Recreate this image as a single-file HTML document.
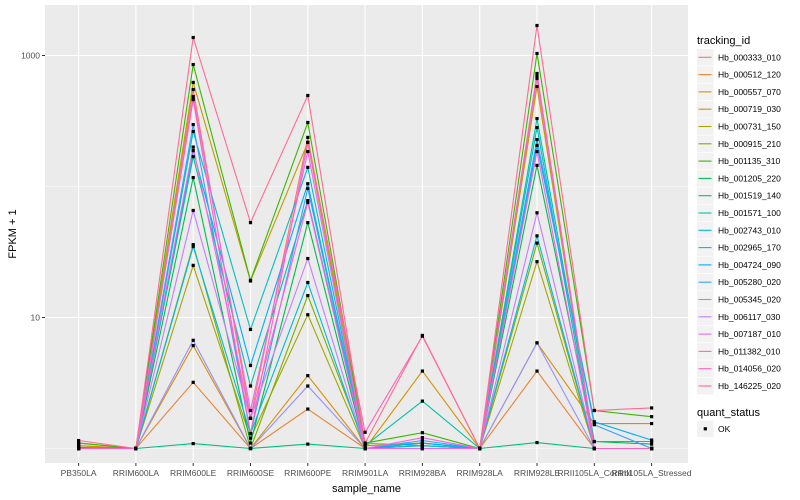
<!DOCTYPE html>
<html><head><meta charset="utf-8"><style>
body{margin:0;background:#fff}
svg{display:block;font-family:"Liberation Sans",sans-serif}
</style></head><body>
<svg id="chart" width="800" height="500"></svg>
<script>
const categories=["PB350LA","RRIM600LA","RRIM600LE","RRIM600SE","RRIM600PE","RRIM901LA","RRIM928BA","RRIM928LA","RRIM928LE","RRII105LA_Control","RRII105LA_Stressed"];
const seriesNames=["Hb_000333_010","Hb_000512_120","Hb_000557_070","Hb_000719_030","Hb_000731_150","Hb_000915_210","Hb_001135_310","Hb_001205_220","Hb_001519_140","Hb_001571_100","Hb_002743_010","Hb_002965_170","Hb_004724_090","Hb_005280_020","Hb_005345_020","Hb_006117_030","Hb_007187_010","Hb_011382_010","Hb_014056_020","Hb_146225_020"];
const s01=[1.1,1.0,550,1.7,237,1.1,1.05,1.0,667,1.0,1.0];
const s02=[1.0,1.0,3.2,1.0,2.0,1.0,1.0,1.0,3.9,1.0,1.0];
const s03=[1.05,1.0,6.1,1.0,3.6,1.0,3.9,1.0,6.4,1.55,1.55];
const s04=[1.05,1.0,623,19,217,1.0,1.0,1.0,580,1.0,1.0];
const s05=[1.0,1.0,25,1.2,10.5,1.0,1.0,1.0,26.7,1.0,1.0];
const s06=[1.0,1.0,36,1.0,14.7,1.05,1.1,1.0,37,1.0,1.0];
const s07=[1.1,1.0,853,19.2,308,1.1,1.32,1.0,1036,1.95,1.75];
const s08=[1.0,1.0,117,1.1,53,1.0,1.05,1.0,145,1.13,1.08];
const s09=[1.02,1.0,1.09,1.0,1.08,1.0,1.0,1.0,1.11,1.0,1.0];
const s10=[1.0,1.0,169,3.0,78,1.05,2.3,1.0,330,1.13,1.13];
const s11=[1.0,1.0,263,8.1,140,1.0,1.1,1.0,282,1.0,1.0];
const s12=[1.0,1.0,34.8,1.3,18.5,1.0,1.05,1.0,42,1.0,1.0];
const s13=[1.0,1.0,188,4.3,105,1.0,1.1,1.0,206,1.6,1.16];
const s14=[1.0,1.0,297,1.3,96.6,1.0,1.15,1.0,228,1.52,1.0];
const s15=[1.0,1.0,6.7,1.0,3.0,1.0,1.0,1.0,6.4,1.0,1.0];
const s16=[1.0,1.0,65.6,1.7,28.2,1.0,1.0,1.0,63,1.0,1.0];
const s17=[1.0,1.0,486,1.95,185,1.0,1.0,1.0,691,1.0,1.0];
const s18=[1.0,1.0,200,1.7,75.5,1.0,1.21,1.0,185,1.0,1.0];
const s19=[1.0,1.0,460,1.3,217,1.33,7.2,1.0,729,1.0,1.0];
const s20=[1.15,1.0,1372,53,495,1.1,7.3,1.0,1694,1.95,2.04];
const seriesValues=[s01,s02,s03,s04,s05,s06,s07,s08,s09,s10,s11,s12,s13,s14,s15,s16,s17,s18,s19,s20];
const yTickValues=[10,1000];
const yTickLabels=["10","1000"];
const colors=["#F8766D","#EA8331","#D89000","#C09B00","#A3A500","#7CAE00","#39B600","#00BB4E","#00BF7D","#00C1A3","#00BFC4","#00BAE0","#00B0F6","#35A2FF","#9590FF","#C77CFF","#E76BF3","#FA62DB","#FF62BC","#FF6C91"];

const NS="http://www.w3.org/2000/svg";
const svg=document.getElementById("chart");
const P={l:45,r:688,t:5,b:463};
function xScale(i){return 78.6+57.3*i;}
function yScale(v){return 448.5-131*Math.log10(v);}
function mk(tag,attrs,parent){const e=document.createElementNS(NS,tag);for(const k in attrs)e.setAttribute(k,attrs[k]);(parent||svg).appendChild(e);return e;}

const panel=mk("rect",{x:P.l,y:P.t,width:P.r-P.l,height:P.b-P.t,fill:"#EBEBEB"});


// minor gridlines
[1,100].forEach(v=>{const g=mk("line",{x1:P.l,x2:P.r,y1:yScale(v),y2:yScale(v),stroke:"#fff","stroke-width":0.6});

});
yTickValues.forEach((v,i)=>{const y=yScale(v);
const g=mk("line",{x1:P.l,x2:P.r,y1:y,y2:y,stroke:"#fff","stroke-width":1.1});


const tk=mk("line",{x1:P.l-3,x2:P.l,y1:y,y2:y,stroke:"#333","stroke-width":1});


const t=mk("text",{x:P.l-5,y:y+3,"text-anchor":"end","font-size":"8.5",fill:"#4D4D4D"});t.textContent=yTickLabels[i];

});
categories.forEach((c,i)=>{const x=xScale(i);
const g=mk("line",{x1:x,x2:x,y1:P.t,y2:P.b,stroke:"#fff","stroke-width":1.1});


const tk=mk("line",{x1:x,x2:x,y1:P.b,y2:P.b+3,stroke:"#333","stroke-width":1});


const t=mk("text",{x:x,y:P.b+13,"text-anchor":"middle","font-size":"8.5",fill:"#4D4D4D"});t.textContent=c;

});
seriesValues.forEach((vals,s)=>{
const pts=vals.map((v,i)=>xScale(i).toFixed(1)+","+yScale(v).toFixed(1)).join(" ");
const pl=mk("polyline",{points:pts,fill:"none",stroke:colors[s],"stroke-width":1.1});

});
seriesValues.forEach((vals,s)=>{vals.forEach((v,i)=>{
const p=mk("rect",{x:xScale(i)-1.6,y:yScale(v)-1.6,width:3.2,height:3.2,fill:"#000"});

});});
const xt=mk("text",{x:(P.l+P.r)/2,y:492,"text-anchor":"middle","font-size":"11",fill:"#000"});xt.textContent="sample_name";


const yt=mk("text",{x:0,y:0,"text-anchor":"middle","font-size":"11",fill:"#000",transform:"translate(16,234) rotate(-90)"});yt.textContent="FPKM + 1";


// legend
const lt=mk("text",{x:697,y:44,"font-size":"11",fill:"#000"});lt.textContent="tracking_id";


seriesNames.forEach((n,i)=>{const cy=57.3+17.3*i;
const g=mk("g",{});


mk("rect",{x:697,y:cy-8.3,width:16.6,height:16.6,fill:"#F2F2F2"},g);
mk("line",{x1:698.5,x2:711.5,y1:cy,y2:cy,stroke:colors[i],"stroke-width":1.1},g);
const t=mk("text",{x:718,y:cy+3,"font-size":"8.5",fill:"#000"},g);t.textContent=n;});
const qt=mk("text",{x:697,y:416,"font-size":"11",fill:"#000"});qt.textContent="quant_status";


const qg=mk("g",{});


mk("rect",{x:697,y:420.5,width:16.6,height:16.6,fill:"#F2F2F2"},qg);
mk("rect",{x:703.7,y:427.2,width:3.2,height:3.2,fill:"#000"},qg);
const ok=mk("text",{x:718,y:432,"font-size":"8.5",fill:"#000"},qg);ok.textContent="OK";
</script>
</body></html>
